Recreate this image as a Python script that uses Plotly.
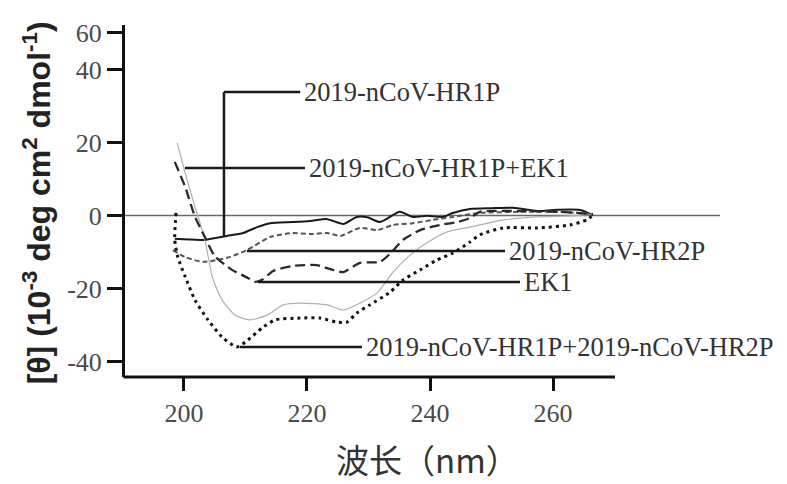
import plotly.graph_objects as go

# ---- data (wavelength nm, [theta] 10^-3 deg cm2 dmol-1) ----
wl_hr1p = [198.5, 203.1, 207.0, 209.6, 211.9, 214.0, 217.7, 220.5, 223.3, 225.9, 228.1, 229.8,
           231.9, 235.1, 237.2, 239.5, 242.1, 243.7, 246.5, 250.0, 253.5, 257.9, 260.0, 264.4, 266.5]
cd_hr1p = [-6.4, -6.7, -5.6, -4.8, -3.2, -2.1, -1.8, -1.5, -1.0, -2.3, -0.4, -0.5,
           -1.8, 1.0, -0.4, -0.1, -0.4, 0.7, 1.8, 2.0, 2.1, 1.2, 1.5, 1.5, 0.1]

wl_hr1p_ek1 = [198.9, 200.2, 201.8, 203.4, 204.6, 206.2, 208.3, 210.7, 213.5, 216.1, 218.9, 223.3,
               225.9, 228.6, 231.4, 234.0, 236.8, 239.5, 242.8, 246.5, 251.9, 257.4, 262.8, 266.5]
cd_hr1p_ek1 = [19.9, 11.6, 2.3, -6.7, -16.8, -23.2, -27.3, -28.6, -27.3, -24.5, -24.0, -24.5,
               -25.9, -24.0, -21.2, -15.5, -10.8, -7.5, -4.5, -3.2, -1.2, -0.4, -0.1, 0.4]

wl_hr2p = [198.2, 200.2, 203.1, 207.0, 210.2, 214.0, 217.7, 220.5, 223.3, 225.4, 228.6, 231.4,
           234.0, 237.2, 240.5, 243.7, 248.1, 254.6, 261.1, 266.5]
cd_hr2p = [-9.5, -11.4, -12.7, -11.6, -9.5, -5.9, -4.8, -5.1, -4.8, -5.6, -3.4, -4.0,
           -2.6, -2.1, -1.2, -0.4, 0.7, 1.0, 1.0, 0.4]

wl_ek1 = [198.5, 200.2, 201.8, 203.4, 205.0, 207.8, 210.4, 211.5, 212.7, 214.5, 217.7, 221.6,
          224.2, 225.9, 228.6, 231.9, 233.5, 235.6, 238.4, 241.6, 244.4, 246.5, 248.1, 254.6,
          261.1, 266.5]
cd_ek1 = [14.7, 7.8, -0.4, -5.9, -11.1, -14.9, -17.1, -18.2, -17.6, -15.2, -13.8, -13.6,
          -14.9, -15.5, -13.0, -12.7, -10.5, -6.7, -4.0, -2.6, -1.8, -0.7, 1.0, 1.2,
          1.0, 0.4]

wl_hr1p_hr2p = [198.7, 198.5, 199.0, 200.2, 201.8, 203.9, 206.2, 208.6, 210.4, 212.7, 214.8, 218.9,
                222.1, 224.9, 226.5, 228.1, 230.2, 233.5, 235.6, 238.4, 241.1, 243.7, 246.5, 248.1,
                251.9, 257.4, 262.8, 265.5, 266.5]
cd_hr1p_hr2p = [0.7, -6.7, -11.4, -16.8, -23.2, -28.6, -33.3, -36.0, -34.1, -30.8, -28.6, -28.1,
                -28.1, -29.2, -29.2, -26.7, -24.5, -21.0, -17.7, -14.9, -12.2, -10.3, -7.3, -5.3,
                -3.4, -3.4, -2.6, -1.2, 0.1]

x_tick_vals = [200, 220, 240, 260]
y_tick_vals = [-40, -20, 0, 20, 40, 50]
y_tick_text = ["-40", "-20", "0", "20", "40", "60"]

series_names = ["2019-nCoV-HR1P", "2019-nCoV-HR1P+EK1", "2019-nCoV-HR2P", "EK1",
                "2019-nCoV-HR1P+2019-nCoV-HR2P"]

X_RANGE = [190.41, 287.15]
Y_RANGE = [-44.25, 52.19]

fig = go.Figure()

styles = [
    (wl_hr1p, cd_hr1p, dict(color="#1a1a1a", width=2)),
    (wl_hr1p_ek1, cd_hr1p_ek1, dict(color="#b0b0b0", width=1.2)),
    (wl_hr2p, cd_hr2p, dict(color="#555555", width=2, dash="5px,3px")),
    (wl_ek1, cd_ek1, dict(color="#2a2a2a", width=2.3, dash="10px,5px")),
    (wl_hr1p_hr2p, cd_hr1p_hr2p, dict(color="#111111", width=3, dash="3px,4px")),
]
for (xs, ys, ln), name in zip(styles, series_names):
    fig.add_trace(go.Scatter(x=xs, y=ys, mode="lines", name=name,
                             line=dict(shape="spline", smoothing=0.6, **ln),
                             showlegend=False, hoverinfo="skip"))

shapes = []
# zero line
shapes.append(dict(type="line", xref="paper", yref="y", x0=0, x1=1, y0=0, y1=0,
                   line=dict(color="#6a6a6a", width=1.5), layer="below"))
# x axis line (shorter than plot area)
shapes.append(dict(type="line", xref="paper", yref="paper", x0=-0.0025, x1=0.8235, y0=0, y1=0,
                   line=dict(color="#111111", width=3)))

lead = dict(color="#1a1a1a", width=2.5)
# leader lines
shapes += [
    dict(type="line", xref="x", yref="y", x0=206.5, x1=206.5, y0=-5.6, y1=33.84, line=lead),
    dict(type="line", xref="x", yref="y", x0=206.5, x1=218.9, y0=33.84, y1=33.84, line=lead),
    dict(type="line", xref="x", yref="y", x0=200.16, x1=219.67, y0=13.0, y1=13.0, line=lead),
    dict(type="line", xref="x", yref="y", x0=210.24, x1=252.2, y0=-9.73, y1=-9.73, line=lead),
    dict(type="line", xref="x", yref="y", x0=212.03, x1=254.63, y0=-18.22, y1=-18.22, line=lead),
    dict(type="line", xref="x", yref="y", x0=209.1, x1=228.94, y0=-36.03, y1=-36.03, line=lead),
]

label_font = dict(family="Liberation Serif", size=26.5, color="#333333")
label_pos = [(219.2, 33.84), (220.0, 13.0), (252.5, -9.73), (254.9, -18.22), (229.3, -36.03)]
annotations = []
for name, (lx, ly) in zip(series_names, label_pos):
    annotations.append(dict(x=lx, y=ly, xref="x", yref="y", text=name, showarrow=False,
                            xanchor="left", yanchor="middle", font=label_font))

annotations.append(dict(x=0.509, y=-0.232, xref="paper", yref="paper", text="波长（nm）",
                        showarrow=False, xanchor="center", yanchor="middle",
                        font=dict(family="Noto Sans CJK SC", size=33, color="#333333")))
annotations.append(dict(x=-0.148, y=0.496, xref="paper", yref="paper",
                        text="[θ] (10<sup>-3</sup> deg cm<sup>2</sup> dmol<sup>-1</sup>)",
                        showarrow=False, xanchor="center", yanchor="middle", textangle=-90,
                        font=dict(family="Liberation Sans", size=32, color="#222222",
                                  weight="bold")))

# the page body has an 8px margin, so the figure is sized/offset to fit the 787x484 window
fig.update_layout(
    width=779, height=476,
    margin=dict(l=117, r=67, t=17, b=107),
    paper_bgcolor="white", plot_bgcolor="white",
    shapes=shapes, annotations=annotations,
    xaxis=dict(range=X_RANGE, tickvals=x_tick_vals, ticks="outside", ticklen=13, tickwidth=3,
               tickcolor="#111111", showline=False, showgrid=False, zeroline=False,
               tickfont=dict(family="Liberation Serif", size=26, color="#4a4a4a")),
    yaxis=dict(range=Y_RANGE, tickvals=y_tick_vals, ticktext=y_tick_text, ticks="outside",
               ticklen=15, tickwidth=3, tickcolor="#111111", showline=True, linewidth=3,
               linecolor="#111111", showgrid=False, zeroline=False,
               tickfont=dict(family="Liberation Serif", size=26, color="#4a4a4a")),
)

fig.write_html("out.html")
